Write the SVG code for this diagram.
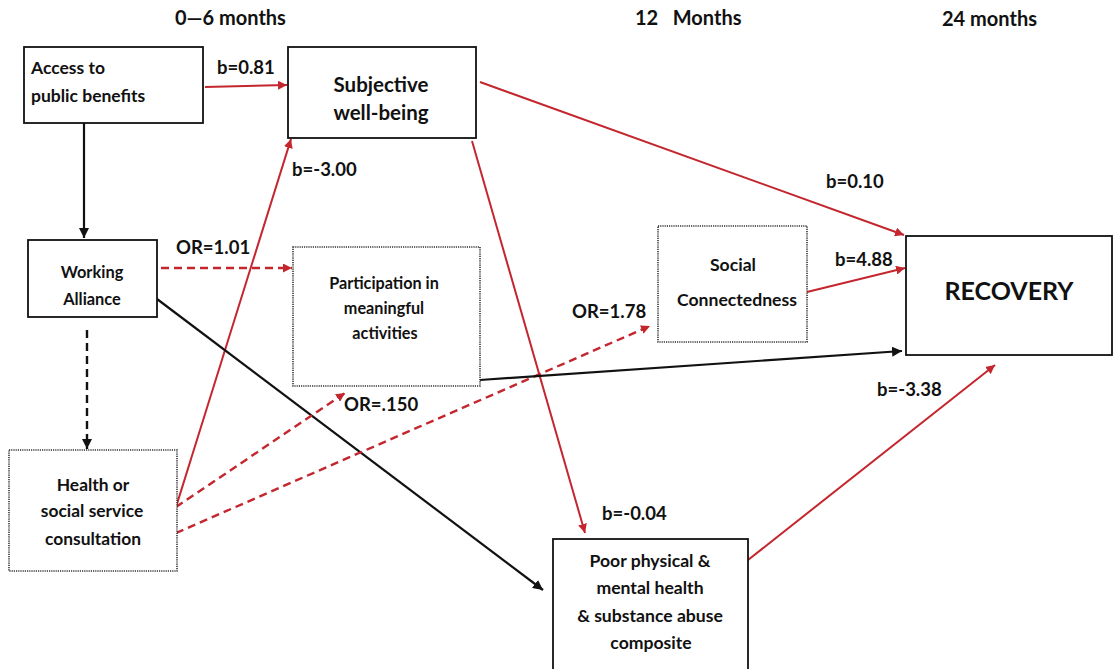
<svg xmlns="http://www.w3.org/2000/svg" width="1117" height="669" viewBox="0 0 1117 669">
<defs>
<style>
text{font-family:Lato,"Open Sans","Liberation Sans",sans-serif;font-weight:bold;fill:#111}
.lbl{font-size:18.5px}
.hdr{font-size:20px}
.box{fill:#fff;stroke:#111;stroke-width:1.8}
.dot{fill:#fff;stroke:#333;stroke-width:1.6;stroke-dasharray:1.2 1}
.red{stroke:#c4262e;stroke-width:2;fill:none}
.blk{stroke:#111;stroke-width:2.2;fill:none}
.dash{stroke-dasharray:8 5;stroke-width:2.4}
.c{text-anchor:middle}
</style>
<marker id="ar" viewBox="0 0 10 10" refX="10" refY="5" markerWidth="9" markerHeight="9" markerUnits="userSpaceOnUse" orient="auto"><path d="M0,0 L10,5 L0,10 z" fill="#c4262e"/></marker>
<marker id="ab" viewBox="0 0 10 10" refX="10" refY="5" markerWidth="10" markerHeight="10" markerUnits="userSpaceOnUse" orient="auto"><path d="M0,0 L10,5 L0,10 z" fill="#111"/></marker>
</defs>
<rect width="1117" height="669" fill="#fff"/>

<g id="headers">
<text class="hdr" x="175" y="25">0—6 months</text>
<text class="hdr" x="635" y="25" xml:space="preserve">12   Months</text>
<text class="hdr" x="942" y="26">24 months</text>
</g>

<g id="connectors">
<line class="red" x1="205" y1="87" x2="287" y2="85" marker-end="url(#ar)"/>
<line class="blk" x1="84" y1="123" x2="84" y2="238" marker-end="url(#ab)"/>
<line class="blk dash" x1="87" y1="330" x2="87" y2="449" marker-end="url(#ab)"/>
<line class="red" x1="480" y1="82" x2="904" y2="235" marker-end="url(#ar)"/>
<line class="red" x1="472" y1="141" x2="585" y2="533" marker-end="url(#ar)"/>
<line class="red" x1="176" y1="507" x2="291" y2="139" marker-end="url(#ar)"/>
<line class="red dash" x1="161" y1="268" x2="292" y2="268" marker-end="url(#ar)"/>
<line class="blk" x1="157" y1="299" x2="543" y2="590" marker-end="url(#ab)"/>
<line class="red dash" x1="176" y1="507" x2="345" y2="393" marker-end="url(#ar)"/>
<line class="red dash" x1="176" y1="533" x2="650" y2="326" marker-end="url(#ar)"/>
<line class="blk" x1="480" y1="380" x2="902" y2="351" marker-end="url(#ab)"/>
<line class="red" x1="807" y1="292" x2="905" y2="268" marker-end="url(#ar)"/>
<line class="red" x1="748" y1="560" x2="995" y2="365" marker-end="url(#ar)"/>
</g>

<g id="edge-labels">
<text class="lbl" x="217" y="74">b=0.81</text>
<text class="lbl" x="292" y="176">b=-3.00</text>
<text class="lbl" x="826" y="188">b=0.10</text>
<text class="lbl" x="176" y="254">OR=1.01</text>
<text class="lbl" x="344" y="411">OR=.150</text>
<text class="lbl" x="572" y="318">OR=1.78</text>
<text class="lbl" x="835" y="266">b=4.88</text>
<text class="lbl" x="877" y="396">b=-3.38</text>
<text class="lbl" x="602" y="520">b=-0.04</text>
</g>

<g id="access">
<rect class="box" x="24" y="47" width="179" height="76"/>
<text x="31" y="74" font-size="17.5">Access to</text>
<text x="31" y="102" font-size="17.5">public benefits</text>
</g>

<g id="swb">
<rect class="box" x="288" y="47" width="188" height="91"/>
<text class="c" x="381" y="92" font-size="20.5">Subjective</text>
<text class="c" x="381" y="120" font-size="20.5">well-being</text>
</g>

<g id="alliance">
<rect class="box" x="28" y="240" width="129" height="77"/>
<text class="c" x="92" y="278" font-size="16.4">Working</text>
<text class="c" x="92" y="305" font-size="16.4">Alliance</text>
</g>

<g id="participation">
<rect class="dot" x="293" y="247" width="187" height="139"/>
<text class="c" x="384" y="289" font-size="16.2">Participation in</text>
<text class="c" x="384" y="314" font-size="16.2">meaningful</text>
<text class="c" x="385" y="339" font-size="16.2">activities</text>
</g>

<g id="health">
<rect class="dot" x="9" y="450" width="168" height="121"/>
<text class="c" x="93" y="491" font-size="17.4">Health or</text>
<text class="c" x="92" y="517" font-size="17.4">social service</text>
<text class="c" x="93" y="545" font-size="17.4">consultation</text>
</g>

<g id="social">
<rect class="dot" x="658" y="226" width="149" height="116"/>
<text class="c" x="733" y="271" font-size="17.6">Social</text>
<text class="c" x="737" y="306" font-size="17.6">Connectedness</text>
</g>

<g id="recovery">
<rect class="box" x="906" y="236" width="206" height="119"/>
<text class="c" x="1009" y="300" font-size="25">RECOVERY</text>
</g>

<g id="health-composite">
<rect class="box" x="553" y="539" width="195" height="140"/>
<text class="c" x="650" y="567" font-size="17.6">Poor physical &amp;</text>
<text class="c" x="650" y="594" font-size="17.6">mental health</text>
<text class="c" x="650" y="622" font-size="17.6">&amp; substance abuse</text>
<text class="c" x="651" y="649" font-size="17.6">composite</text>
</g>
</svg>
